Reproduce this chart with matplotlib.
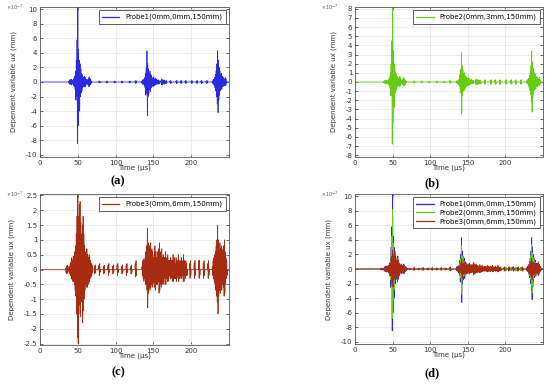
import numpy as np
import matplotlib.pyplot as plt

# sample step inside each burst (µs); values are in units of 1e-7 mm
dt = 0.5

# probe 1 (0mm,0mm,150mm)
p1_starts = [38, 78, 88, 98, 108, 118, 126, 134.5, 160, 172, 180, 186, 192, 200, 207, 213, 220, 228]
p1_vals = [
    [0.1, -0.2, 0.3, -0.3, 0.2, -0.3, 0.4, -0.4, 0.3, -0.2, 0.2, -0.3, 0.4, -0.5, 0.5, -0.6, 0.8, -1.0,
     1.5, -2.5, 3.0, -2.0, 5.8, -8.5, 10.5, -6.0, 4.5, -3.5, 3.0, -4.0, 2.5, -2.0, 1.8, -1.5, 1.2, -1.2,
     1.0, -0.8, 0.7, -0.6, 0.5, -0.6, 0.8, -0.7, 0.6, -0.5, 0.4, -0.3, 0.3, -0.2, 0.3, -0.4, 0.5, -0.6,
     0.7, -0.6, 0.5, -0.4, 0.3, -0.2, 0.15, -0.1],
    [0.1, -0.15, 0.15, -0.1], [0.1, -0.15, 0.15, -0.1], [0.1, -0.15, 0.15, -0.1],
    [0.1, -0.15, 0.15, -0.1], [0.1, -0.15, 0.15, -0.1], [0.15, -0.2, 0.2, -0.15],
    [0.1, -0.2, 0.3, -0.3, 0.2, -0.3, 0.4, -0.5, 0.6, -0.8, 1.2, -1.8, 2.0, -1.5, 4.3, -4.6, 2.5, -2.0,
     1.8, -1.5, 1.2, -1.0, 1.5, -1.3, 1.0, -0.8, 0.9, -0.7, 0.6, -0.5, 0.5, -0.6, 0.7, -0.5, 0.4, -0.4,
     0.5, -0.4, 0.3, -0.3, 0.4, -0.3, 0.2, -0.2, 0.3, -0.3, 0.2, -0.2],
    [0.2, -0.3, 0.4, -0.4, 0.3, -0.3, 0.2, -0.2, 0.3, -0.3, 0.2, -0.2, 0.15, -0.15, 0.2, -0.2],
    [0.15, -0.2, 0.2, -0.15], [0.15, -0.2, 0.2, -0.15], [0.15, -0.2, 0.2, -0.15],
    [0.15, -0.2, 0.2, -0.15], [0.15, -0.2, 0.2, -0.15], [0.15, -0.2, 0.2, -0.15],
    [0.15, -0.2, 0.2, -0.15], [0.15, -0.2, 0.2, -0.15],
    [0.1, -0.2, 0.3, -0.3, 0.4, -0.5, 0.6, -0.8, 1.0, -1.2, 1.5, -2.0, 2.5, -3.0, 4.3, -4.2, 3.0, -2.5,
     2.0, -1.8, 1.5, -1.2, 1.0, -0.8, 1.2, -1.0, 0.8, -0.6, 0.7, -0.6, 0.5, -0.4, 0.4, -0.5, 0.6, -0.5,
     0.4, -0.3],
]

# probe 2 (0mm,3mm,150mm)
p2_starts = [38, 78, 88, 98, 108, 118, 126, 134.5, 160, 172, 180, 186, 192, 200, 207, 213, 220, 228]
p2_vals = [
    [0.05, -0.1, 0.15, -0.15, 0.1, -0.15, 0.2, -0.2, 0.15, -0.1, 0.1, -0.15, 0.2, -0.3, 0.3, -0.4, 0.5,
     -0.7, 1.0, -1.5, 2.0, -1.5, 4.5, -6.8, 8.2, -4.5, 3.5, -2.5, 2.0, -2.8, 1.5, -1.2, 1.0, -0.9, 0.8,
     -0.8, 0.6, -0.5, 0.5, -0.4, 0.4, -0.4, 0.6, -0.5, 0.5, -0.4, 0.3, -0.2, 0.2, -0.15, 0.2, -0.3, 0.4,
     -0.4, 0.5, -0.4, 0.3, -0.3, 0.2, -0.15, 0.1, -0.05],
    [0.1, -0.1, 0.1, -0.1], [0.1, -0.1, 0.1, -0.1], [0.1, -0.1, 0.1, -0.1],
    [0.1, -0.1, 0.1, -0.1], [0.1, -0.1, 0.1, -0.1], [0.15, -0.15, 0.15, -0.1],
    [0.05, -0.1, 0.15, -0.15, 0.1, -0.15, 0.2, -0.3, 0.4, -0.5, 0.8, -1.2, 1.4, -1.0, 3.2, -3.5, 1.8,
     -1.5, 1.3, -1.0, 0.9, -0.7, 1.0, -0.9, 0.7, -0.6, 0.6, -0.5, 0.5, -0.4, 0.4, -0.4, 0.5, -0.4, 0.3,
     -0.3, 0.4, -0.3, 0.2, -0.2, 0.3, -0.2, 0.2, -0.15, 0.2, -0.2, 0.15, -0.15],
    [0.2, -0.25, 0.3, -0.3, 0.25, -0.25, 0.2, -0.2, 0.25, -0.25, 0.2, -0.2, 0.15, -0.15, 0.2, -0.2],
    [0.2, -0.25, 0.25, -0.2], [0.2, -0.25, 0.25, -0.2], [0.2, -0.25, 0.25, -0.2],
    [0.2, -0.25, 0.25, -0.2], [0.2, -0.25, 0.25, -0.2], [0.2, -0.25, 0.25, -0.2],
    [0.2, -0.25, 0.25, -0.2], [0.2, -0.25, 0.25, -0.2],
    [0.05, -0.1, 0.2, -0.2, 0.3, -0.4, 0.4, -0.6, 0.7, -0.9, 1.0, -1.4, 1.8, -2.2, 3.4, -3.3, 2.2, -1.8,
     1.5, -1.3, 1.1, -0.9, 0.8, -0.6, 0.9, -0.8, 0.6, -0.5, 0.5, -0.5, 0.4, -0.3, 0.3, -0.4, 0.5, -0.4,
     0.3, -0.2],
]

# probe 3 (0mm,6mm,150mm)
p3_starts = [34, 38, 72, 78, 84, 90, 96, 102, 108, 114, 120, 126, 135, 175, 198, 204, 210, 216, 222, 228]
p3_vals = [
    [0.05, -0.1, 0.1, -0.15, 0.15, -0.1, 0.1, -0.05],
    [0.05, -0.1, 0.1, -0.15, 0.2, -0.2, 0.25, -0.3, 0.4, -0.35, 0.3, -0.4, 0.45, -0.4, 0.35, -0.5, 0.6,
     -0.7, 0.8, -0.9, 1.2, -1.5, 1.8, -2.3, 2.6, -2.5, 1.8, -1.5, 2.2, -1.2, 2.3, -1.6, 1.6, -1.1, 1.2,
     -1.0, 1.5, -1.8, 1.8, -1.4, 1.2, -1.0, 0.8, -0.7, 0.6, -0.5, 0.5, -0.6, 0.7, -0.6, 0.5, -0.4, 0.4,
     -0.5, 0.5, -0.4, 0.3, -0.3, 0.3, -0.25, 0.2, -0.2, 0.15, -0.1],
    [0.1, -0.15, 0.15, -0.1], [0.15, -0.2, 0.2, -0.1], [0.1, -0.15, 0.15, -0.1],
    [0.15, -0.2, 0.2, -0.1], [0.1, -0.15, 0.15, -0.1], [0.15, -0.2, 0.2, -0.1],
    [0.1, -0.15, 0.15, -0.1], [0.15, -0.2, 0.2, -0.1], [0.1, -0.15, 0.15, -0.1],
    [0.2, -0.25, 0.3, -0.2],
    [0.1, -0.2, 0.3, -0.3, 0.35, -0.4, 0.3, -0.3, 0.4, -0.5, 0.6, -0.5, 0.8, -0.7, 1.4, -1.3, 0.9, -0.8,
     0.7, -0.6, 0.8, -0.7, 0.9, -0.6, 0.5, -0.5, 0.7, -0.6, 0.6, -0.5, 0.4, -0.4, 0.5, -0.6, 0.8, -0.7,
     0.6, -0.5, 0.4, -0.5, 0.6, -0.5, 0.5, -0.4, 0.7, -0.8, 0.9, -0.7, 0.6, -0.5, 0.5, -0.6, 0.7, -0.5,
     0.4, -0.4, 0.5, -0.5, 0.4, -0.3, 0.4, -0.5, 0.6, -0.5, 0.4, -0.3, 0.3, -0.4, 0.5, -0.4, 0.3, -0.3,
     0.3, -0.2, 0.3, -0.3, 0.4, -0.3, 0.3, -0.2],
    [0.3, -0.4, 0.5, -0.4, 0.3, -0.3, 0.4, -0.3, 0.2, -0.3, 0.4, -0.4, 0.3, -0.2, 0.3, -0.3, 0.5, -0.4,
     0.3, -0.3, 0.2, -0.2, 0.3, -0.3, 0.4, -0.3, 0.2, -0.2, 0.3, -0.4, 0.5, -0.4, 0.3, -0.2, 0.2, -0.3,
     0.3, -0.2, 0.2, -0.2],
    [0.2, -0.3, 0.3, -0.2], [0.2, -0.3, 0.3, -0.2], [0.3, -0.3, 0.3, -0.2],
    [0.2, -0.3, 0.3, -0.2], [0.2, -0.3, 0.3, -0.2],
    [0.1, -0.2, 0.3, -0.3, 0.4, -0.4, 0.5, -0.5, 0.6, -0.7, 0.8, -0.9, 1.0, -1.1, 1.5, -1.5, 1.0, -0.9,
     0.8, -0.7, 0.9, -0.8, 0.7, -0.6, 0.8, -0.7, 0.6, -0.5, 0.7, -0.6, 0.8, -0.9, 1.0, -0.8, 0.6, -0.5,
     0.4, -0.3, 0.3, -0.2],
]

labels = ['Probe1(0mm,0mm,150mm)', 'Probe2(0mm,3mm,150mm)', 'Probe3(0mm,6mm,150mm)']
colors = ['#2a2ae0', '#66cc11', '#a82c12']


def build(starts, vals):
    t = [0.0]
    u = [0.0]
    for s, v in zip(starts, vals):
        tt = s + dt * np.arange(len(v))
        t += [s - dt] + list(tt) + [tt[-1] + dt]
        u += [0.0] + list(v) + [0.0]
    t.append(250.0)
    u.append(0.0)
    return np.array(t), np.array(u)


series = [build(p1_starts, p1_vals), build(p2_starts, p2_vals), build(p3_starts, p3_vals)]

fig = plt.figure(figsize=(5.5, 3.84), dpi=100)
W, H = 550, 384


def make_ax(x0, top, x1, bottom):
    return fig.add_axes([x0 / W, 1 - bottom / H, (x1 - x0) / W, (bottom - top) / H])


ax_a = make_ax(40, 7, 229, 157)
ax_b = make_ax(355, 7, 543, 157)
ax_c = make_ax(40, 194, 229, 345)
ax_d = make_ax(355, 194, 543, 344)

panels = [
    (ax_a, [0], (-10.3, 10.3), np.arange(-10, 11, 2), '(a)', (118, 181)),
    (ax_b, [1], (-8.2, 8.2), np.arange(-8, 9, 1), '(b)', (432, 183)),
    (ax_c, [2], (-2.55, 2.55), np.arange(-2.5, 2.6, 0.5), '(c)', (118, 372)),
    (ax_d, [0, 1, 2], (-10.3, 10.3), np.arange(-10, 11, 2), '(d)', (432, 373)),
]

for ax, idx, ylim, yticks, tag, tagpos in panels:
    for i in idx:
        t, u = series[i]
        ax.plot(t, u, color=colors[i], lw=0.55, label=labels[i])
    ax.set_xlim(0, 250)
    ax.set_ylim(*ylim)
    ax.set_xticks([0, 50, 100, 150, 200])
    ax.set_yticks(yticks)
    ax.set_yticklabels(['%g' % v for v in yticks])
    ax.grid(True, color='#e4e4e4', lw=0.5)
    ax.set_axisbelow(True)
    ax.tick_params(direction='in', top=True, right=True, labelsize=5, length=2, width=0.5,
                   colors='#333333', pad=2)
    for sp in ax.spines.values():
        sp.set_linewidth(0.6)
        sp.set_color('#555555')
    ax.set_xlabel('Time (µs)', fontsize=5, labelpad=-1, color='#333333')
    ax.set_ylabel('Dependent variable ux (mm)', fontsize=5, labelpad=6, color='#333333')
    ax.text(-0.09, 1.0, '×10$^{-7}$', transform=ax.transAxes, fontsize=3.5, ha='right',
            va='center', color='#555555')
    leg = ax.legend(loc='upper right', fontsize=5, fancybox=False, edgecolor='#444444',
                    framealpha=1, handlelength=2.5, borderpad=0.5, labelspacing=0.3)
    leg.get_frame().set_linewidth(0.6)
    for line in leg.get_lines():
        line.set_linewidth(0.9)
    fig.text(tagpos[0] / W, 1 - tagpos[1] / H, tag, fontsize=9, family='Liberation Serif',
             fontweight='bold', ha='center', va='center')

fig.savefig('out.png', dpi=100)
